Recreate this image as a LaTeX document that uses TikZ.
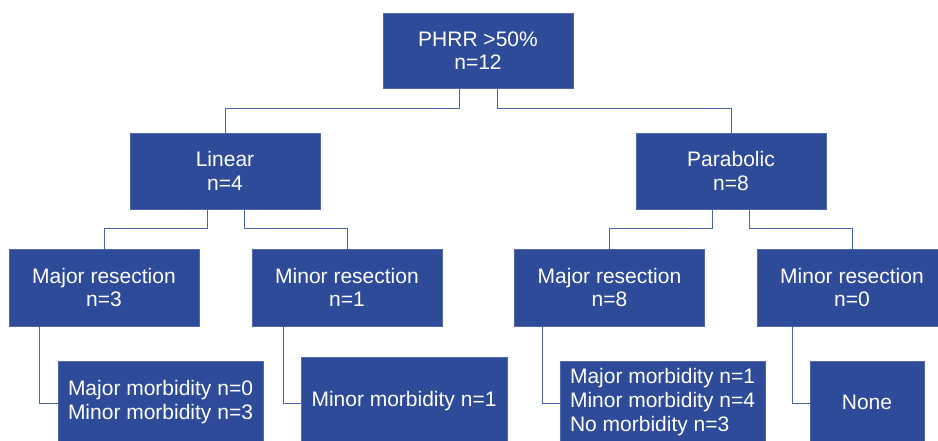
\documentclass[tikz,border=0pt]{standalone}
\usepackage{fontspec}
\setmainfont{Liberation Sans}
\definecolor{boxblue}{HTML}{2E4B9A}
\definecolor{edgeblue}{HTML}{4F67AE}
\definecolor{lineblue}{HTML}{4A63AC}
\begin{document}
\begin{tikzpicture}[x=1pt,y=1pt,
  box/.style={fill=boxblue, draw=edgeblue, line width=0.6pt, inner sep=0pt,
    align=center, text=white, minimum width=190pt, minimum height=76pt,
    font=\fontsize{21}{23.5}\selectfont},
  conn/.style={draw=lineblue, line width=1pt}]
\useasboundingbox (0,0) rectangle (938,-441);
\clip (0,0) rectangle (938,-441);
% level 0
\node[box, minimum height=75pt] (top) at (478,-50.5) {PHRR >50\%\\n=12};
% level 1
\node[box] (lin) at (225,-171) {Linear\\n=4};
\node[box] (par) at (731,-171) {Parabolic\\n=8};
% level 2
\node[box, minimum height=77pt] (majL) at (104,-287.5) {Major resection\\n=3};
\node[box, minimum height=77pt] (minL) at (347,-287.5) {Minor resection\\n=1};
\node[box, minimum height=77pt] (majR) at (609.5,-287.5) {Major resection\\n=8};
\node[box, minimum height=77pt] (minR) at (852,-287.5) {Minor resection\\n=0};
% level 3
\node[box, align=left, minimum width=205pt, minimum height=82pt] (mA) at (160.5,-402) {Major morbidity n=0\\Minor morbidity n=3};
\node[box, minimum width=206pt, minimum height=88pt] (mB) at (404,-401) {\raisebox{-3pt}{Minor morbidity n=1}};
\node[box, align=left, minimum width=205pt, minimum height=82pt, font=\fontsize{21}{24}\selectfont] (mC) at (662.5,-402) {Major morbidity n=1\\Minor morbidity n=4\\No morbidity n=3};
\node[box, minimum width=114pt, minimum height=82pt] (mD) at (867,-402) {None};
% connectors
\draw[conn] ([xshift=-19pt]top.south) -- ++(0,-20) -| (lin.north);
\draw[conn] ([xshift=19pt]top.south) -- ++(0,-20) -| (par.north);
\draw[conn] ([xshift=-18pt]lin.south) -- ++(0,-19) -| (majL.north);
\draw[conn] ([xshift=19pt]lin.south) -- ++(0,-19) -| (minL.north);
\draw[conn] ([xshift=-19pt]par.south) -- ++(0,-19) -| (majR.north);
\draw[conn] ([xshift=18pt]par.south) -- ++(0,-19) -| (minR.north);
\draw[conn] ([xshift=-65pt]majL.south) |- ([yshift=-1pt]mA.west);
\draw[conn] ([xshift=-64pt]minL.south) |- ([yshift=-2pt]mB.west);
\draw[conn] ([xshift=-67.5pt]majR.south) |- ([yshift=-1pt]mC.west);
\draw[conn] ([xshift=-60pt]minR.south) |- ([yshift=-1pt]mD.west);
\end{tikzpicture}
\end{document}
